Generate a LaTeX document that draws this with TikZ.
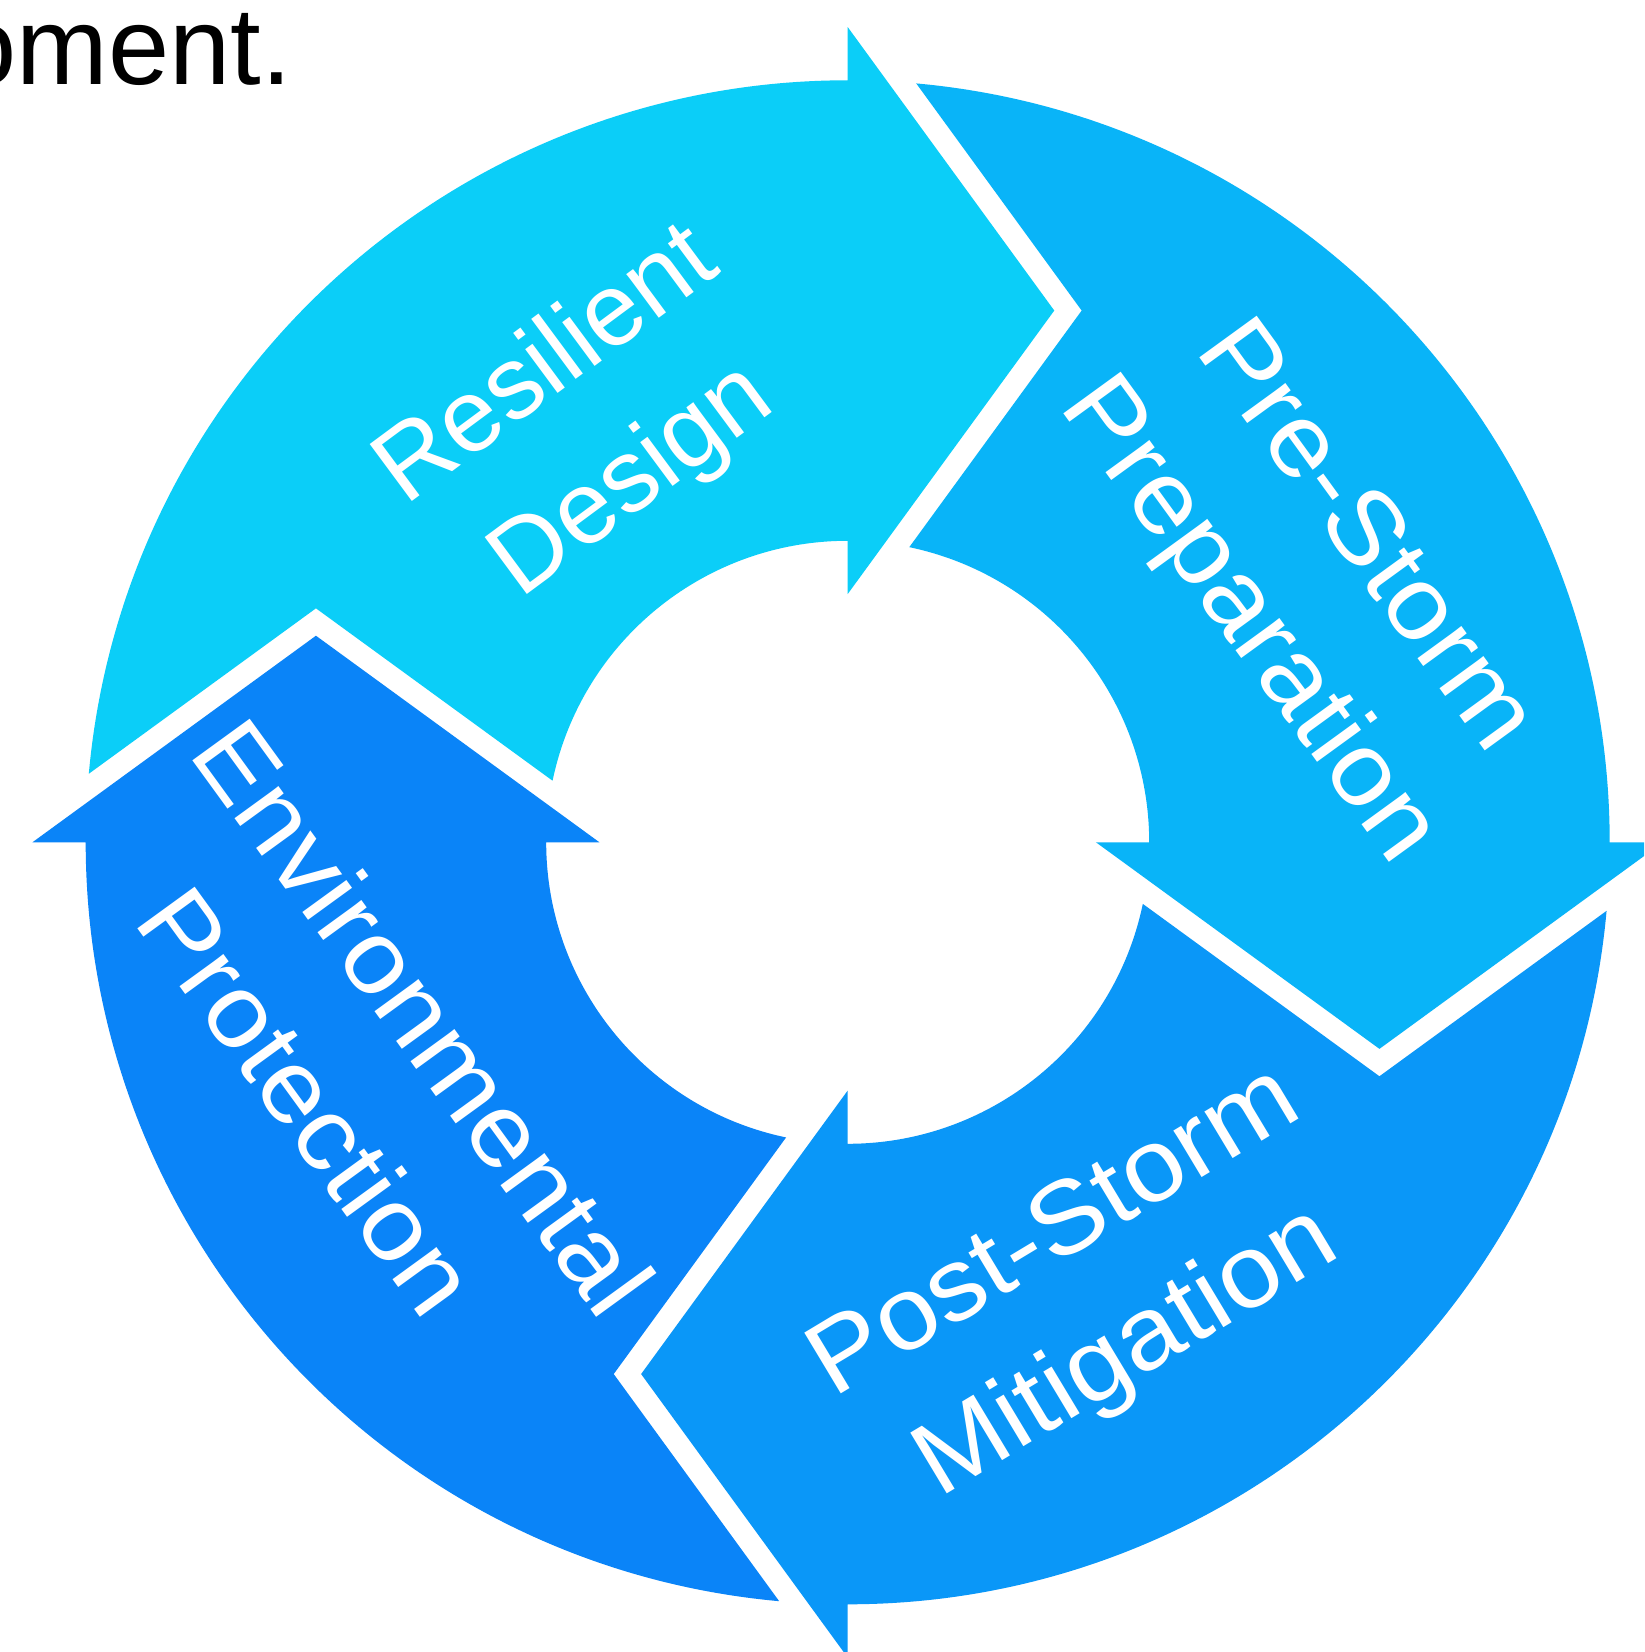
\documentclass[tikz,border=0pt]{standalone}
\usepackage{fontspec}
\setmainfont{Liberation Sans}
\newfontfamily\widesans[FakeStretch=1.07]{Liberation Sans}
\definecolor{cRes}{RGB}{11,206,248}
\definecolor{cPre}{RGB}{9,180,248}
\definecolor{cPost}{RGB}{10,151,248}
\definecolor{cEnv}{RGB}{10,132,248}
\newcommand\cycarrow[2]{%
  \fill[#2] ({174.84+#1}:762pt) arc[start angle={174.84+#1}, end angle={90+#1}, radius=762pt]
    -- ({90+#1}:815.25pt) -- ({68.77+#1}:570.48pt) -- ({90+#1}:248.25pt) -- ({90+#1}:301.5pt)
    arc[start angle={90+#1}, end angle={168.21+#1}, radius=301.5pt]
    -- ({156.25+#1}:580.96pt) -- cycle;}
\begin{document}
\begin{tikzpicture}[x=1pt,y=1pt,
  lbl/.style={text=white, font=\fontsize{103}{143}\selectfont, anchor=base, inner sep=0pt, transform shape},
  wlbl/.style={lbl, font=\widesans\fontsize{103}{143}\selectfont}]
\useasboundingbox (-847.7,-809.7) rectangle (796.3,842.3);
\clip (-847.7,-809.7) rectangle (796.3,842.3);
\fill[white] (-847.7,-809.7) rectangle (796.3,842.3);
\cycarrow{0}{cRes}
\cycarrow{-90}{cPre}
\cycarrow{-180}{cPost}
\cycarrow{-270}{cEnv}
\begin{scope}[shift={(-241,396)}, rotate=36.5]
  \node[lbl] (rd1) at (0,71.5) {Resilient};
  \node[lbl] (rd2) at (0,-71.5) {Design};
\end{scope}
\begin{scope}[shift={(436.3,246.9)}, rotate=-54]
  \node[wlbl] (ps1) at (0,71.5) {Pre-Storm};
  \node[wlbl] (ps2) at (0,-71.5) {Preparation};
\end{scope}
\begin{scope}[shift={(257.6,-474.5)}, rotate=31]
  \node[wlbl] (pm1) at (0,70) {Post-Storm};
  \node[wlbl] (pm2) at (0,-70) {Mitigation};
\end{scope}
\begin{scope}[shift={(-511.3,-237.9)}, rotate=-54]
  \node[wlbl] (ep1) at (0,71.5) {Environmental};
  \node[wlbl] (ep2) at (0,-71.5) {Protection};
\end{scope}
\node[anchor=base east, inner sep=0pt, font=\fontsize{110}{132}\selectfont] (top) at (-555.7,757.3) {oment.};
\end{tikzpicture}
\end{document}
